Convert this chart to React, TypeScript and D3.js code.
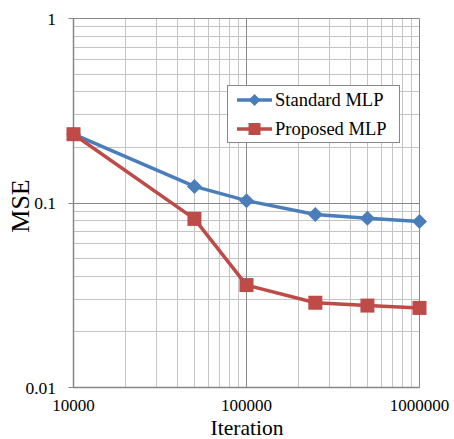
import React from "react";
import * as d3 from "d3";

const iterations = [10000, 50000, 100000, 250000, 500000, 1000000];
const standardMLP = [0.236, 0.123, 0.103, 0.0867, 0.0827, 0.0794];
const proposedMLP = [0.236, 0.082, 0.0359, 0.0288, 0.0278, 0.027];
const xTicks = [10000, 100000, 1000000];
const xTickLabels = ["10000", "100000", "1000000"];
const yTicks = [0.01, 0.1, 1];
const yTickLabels = ["0.01", "0.1", "1"];
const seriesNames = ["Standard MLP", "Proposed MLP"];

const W = 454;
const H = 439;
const FONT = "'Liberation Serif', 'Times New Roman', serif";
const BLUE = "#4a7ebb";
const RED = "#be4b48";

export default function App() {
  const x = d3.scaleLog().domain([1e4, 1e6]).range([73.5, 419.5]);
  const y = d3.scaleLog().domain([0.01, 1]).range([387.5, 18.5]);

  const minorX: number[] = [];
  [1e4, 1e5].forEach((b) => {
    for (let m = 2; m <= 9; m++) minorX.push(m * b);
  });
  const minorY: number[] = [];
  [0.01, 0.1].forEach((b) => {
    for (let m = 2; m <= 9; m++) minorY.push(m * b);
  });

  const line = d3
    .line<number>()
    .x((_, i) => x(iterations[i]))
    .y((d) => y(d));

  const rx = (v: number) => Math.round(x(v) - 0.5) + 0.5;
  const ry = (v: number) => Math.round(y(v) - 0.5) + 0.5;

  const diamond = (cx: number, cy: number, r: number) =>
    `M${cx},${cy - r}L${cx + r},${cy}L${cx},${cy + r}L${cx - r},${cy}Z`;

  const lx0 = 237;
  const lx1 = 272;
  const ly = [100, 129];

  return (
    <div style={{ position: "absolute", left: 0, top: 0 }}>
      <svg width={W} height={H} style={{ display: "block", background: "#fff" }}>
        <rect width={W} height={H} fill="#fff" />
        {/* minor grid */}
        {minorX.map((v) => (
          <line key={"mx" + v} x1={rx(v)} x2={rx(v)} y1={y(1)} y2={y(0.01)} stroke="#c4c4c4" strokeWidth={1} />
        ))}
        {minorY.map((v) => (
          <line key={"my" + v} x1={x(1e4)} x2={x(1e6)} y1={ry(v)} y2={ry(v)} stroke="#c4c4c4" strokeWidth={1} />
        ))}
        {/* major grid */}
        {xTicks.map((v) => (
          <line key={"Mx" + v} x1={rx(v)} x2={rx(v)} y1={y(1)} y2={y(0.01)} stroke="#888" strokeWidth={1} />
        ))}
        {yTicks.map((v) => (
          <line key={"My" + v} x1={x(1e4) - 5} x2={x(1e6)} y1={ry(v)} y2={ry(v)} stroke="#888" strokeWidth={1} />
        ))}
        {/* axes */}
        <line x1={rx(1e4)} x2={rx(1e4)} y1={y(1)} y2={y(0.01)} stroke="#868686" strokeWidth={1.5} />
        <line x1={x(1e4)} x2={x(1e6)} y1={ry(0.01)} y2={ry(0.01)} stroke="#868686" strokeWidth={1.5} />

        {/* y tick labels */}
        {yTicks.map((v, i) => (
          <text
            key={"yl" + v}
            x={56}
            y={y(v)}
            textAnchor="end"
            dominantBaseline="central"
            fontFamily={FONT}
            fontSize={17.5}
            fill="#000"
          >
            {yTickLabels[i]}
          </text>
        ))}
        {/* x tick labels */}
        {xTicks.map((v, i) => (
          <text key={"xl" + v} x={x(v)} y={410.5} textAnchor="middle" fontFamily={FONT} fontSize={17} fill="#000">
            {xTickLabels[i]}
          </text>
        ))}
        {/* axis titles */}
        <text x={247} y={435} textAnchor="middle" fontFamily={FONT} fontSize={21.5} fill="#000">
          Iteration
        </text>
        <text
          transform="translate(29,206) rotate(-90)"
          textAnchor="middle"
          fontFamily={FONT}
          fontSize={26}
          fill="#000"
        >
          MSE
        </text>

        {/* series */}
        <path d={line(standardMLP) || ""} fill="none" stroke={BLUE} strokeWidth={3.5} strokeLinejoin="round" />
        {standardMLP.map((v, i) => (
          <path key={"d" + i} d={diamond(x(iterations[i]), y(v), 7.5)} fill={BLUE} />
        ))}
        <path d={line(proposedMLP) || ""} fill="none" stroke={RED} strokeWidth={3.5} strokeLinejoin="round" />
        {proposedMLP.map((v, i) => (
          <rect key={"s" + i} x={x(iterations[i]) - 7} y={y(v) - 7} width={14} height={14} fill={RED} />
        ))}

        {/* legend */}
        <rect x={227.5} y={85.5} width={172} height={57} fill="#fff" stroke="#888" strokeWidth={1} />
        <line x1={lx0} x2={lx1} y1={ly[0]} y2={ly[0]} stroke={BLUE} strokeWidth={3.5} />
        <path d={diamond((lx0 + lx1) / 2, ly[0], 6)} fill={BLUE} />
        <line x1={lx0} x2={lx1} y1={ly[1]} y2={ly[1]} stroke={RED} strokeWidth={3.5} />
        <rect x={(lx0 + lx1) / 2 - 6} y={ly[1] - 6} width={12} height={12} fill={RED} />
        {seriesNames.map((n, i) => (
          <text key={n} x={275} y={ly[i]} dominantBaseline="central" fontFamily={FONT} fontSize={18.5} fill="#000">
            {n}
          </text>
        ))}
      </svg>
    </div>
  );
}
